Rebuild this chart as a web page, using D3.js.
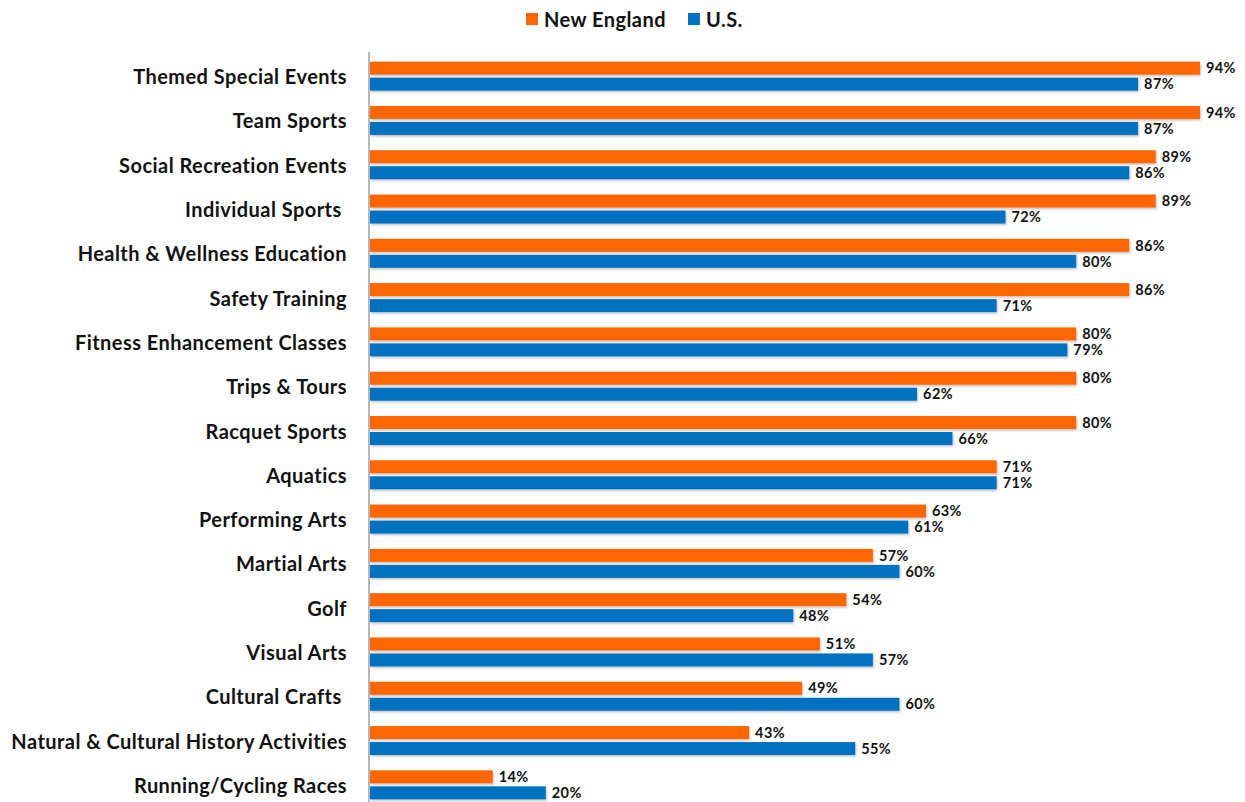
<!DOCTYPE html>
<html>
<head>
<meta charset="utf-8">
<script src="https://cdn.jsdelivr.net/npm/d3@7"></script>
<style>
  body { margin: 0; background: #fff; }
  text { font-family: Lato, "Open Sans", sans-serif; font-weight: 700; fill: #111; white-space: pre; }
</style>
</head>
<body>
<div id="chart"></div>
<script>
// Chart data
const categories = [
    'Themed Special Events', 'Team Sports', 'Social Recreation Events', 'Individual Sports ',
    'Health & Wellness Education', 'Safety Training', 'Fitness Enhancement Classes', 'Trips & Tours',
    'Racquet Sports', 'Aquatics', 'Performing Arts', 'Martial Arts', 'Golf', 'Visual Arts',
    'Cultural Crafts ', 'Natural & Cultural History Activities', 'Running/Cycling Races'
];
const newEngland = [94, 94, 89, 89, 86, 86, 80, 80, 80, 71, 63, 57, 54, 51, 49, 43, 14];
const us = [87, 87, 86, 72, 80, 71, 79, 62, 66, 71, 61, 60, 48, 57, 60, 55, 20];
const seriesNames = ['New England', 'U.S.'];
const seriesColors = ['#FF6600', '#0070C0'];

const width = 1245;
const height = 802;

const svg = d3.select('#chart')
    .append('svg')
    .attr('width', width)
    .attr('height', height);

const defs = svg.append('defs');
const shadow = defs.append('filter').attr('id', 'shadow')
    .attr('x', '-5%').attr('y', '-30%').attr('width', '110%').attr('height', '170%');
shadow.append('feDropShadow')
    .attr('dx', 1).attr('dy', 1.5).attr('stdDeviation', 1)
    .attr('flood-color', '#000').attr('flood-opacity', 0.25);

const x = d3.scaleLinear().domain([0, 100]).range([369, 1253]);
const y = d3.scaleBand().domain(categories).range([54, 807]);

const rows = categories.map((c, i) => ({ cat: c, values: [newEngland[i], us[i]] }));

// Vertical axis line
svg.append('line')
    .attr('x1', x(0)).attr('x2', x(0))
    .attr('y1', 52).attr('y2', height)
    .style('stroke', '#888')
    .style('stroke-width', 1.2);

const barH = 13;
const offsets = [-14.5, 1.5];

const groups = svg.selectAll('.row')
    .data(rows)
    .enter()
    .append('g')
    .attr('class', 'row')
    .attr('transform', d => `translate(0,${y(d.cat) + y.bandwidth() / 2})`);

// Category labels
groups.append('text')
    .attr('x', 347)
    .attr('y', 1)
    .attr('dy', '.35em')
    .attr('text-anchor', 'end')
    .style('font-size', '20px')
    .style('letter-spacing', '0.45px')
    .text(d => d.cat);

seriesNames.forEach((name, s) => {
    groups.append('rect')
        .attr('x', x(0) + 1)
        .attr('y', offsets[s])
        .attr('width', d => x(d.values[s]) - x(0) - 1)
        .attr('height', barH)
        .attr('filter', 'url(#shadow)')
        .style('fill', seriesColors[s]);

    groups.append('text')
        .attr('x', d => x(d.values[s]) + 6)
        .attr('y', offsets[s] + barH / 2)
        .attr('dy', '.36em')
        .style('font-size', '14.5px')
        .style('letter-spacing', '0.4px')
        .text(d => d.values[s] + '%');
});

// Legend
const legendX = [526, 688];
const legend = svg.selectAll('.legend')
    .data(seriesNames)
    .enter()
    .append('g')
    .attr('class', 'legend')
    .attr('transform', (d, i) => `translate(${legendX[i]},13)`);

legend.append('rect')
    .attr('width', 12)
    .attr('height', 12)
    .style('fill', (d, i) => seriesColors[i]);

legend.append('text')
    .attr('x', 18)
    .attr('y', 7)
    .attr('dy', '.36em')
    .style('font-size', '20px')
    .style('letter-spacing', '0.45px')
    .text(d => d);
</script>
</body>
</html>
